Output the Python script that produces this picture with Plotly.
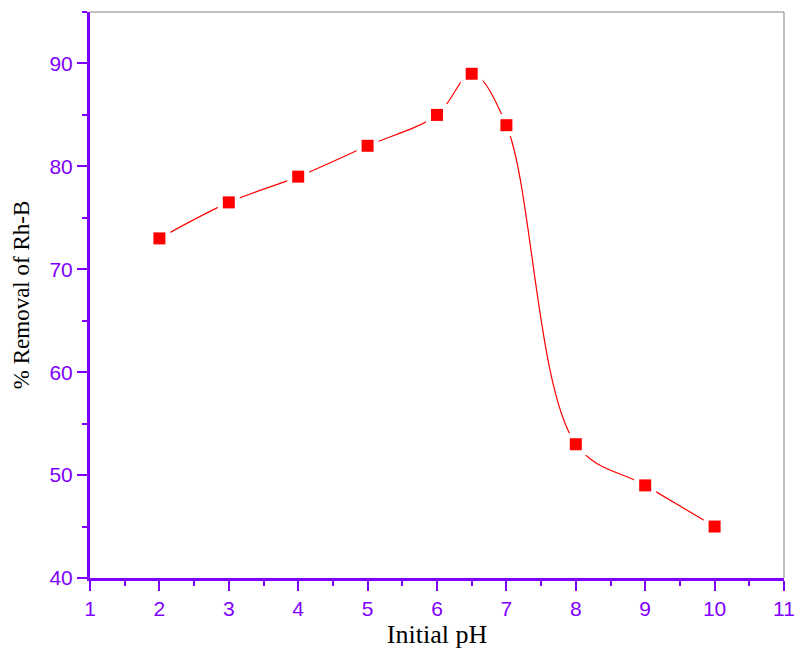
import plotly.graph_objects as go

ph = [2, 3, 4, 5, 6, 6.5, 7, 8, 9, 10]
removal = [73, 76.5, 79, 82, 85, 89, 84, 53, 49, 45]

purple = "#8000ff"

fig = go.Figure()
fig.add_trace(go.Scatter(x=ph, y=removal, mode="lines",
                         line=dict(color="red", width=1.2, shape="spline", smoothing=1.0),
                         showlegend=False, hoverinfo="skip"))
fig.add_trace(go.Scatter(x=ph, y=removal, mode="markers",
                         marker=dict(symbol="square", size=22, color="white"),
                         showlegend=False, hoverinfo="skip"))
fig.add_trace(go.Scatter(x=ph, y=removal, mode="markers",
                         marker=dict(symbol="square", size=12, color="red"),
                         showlegend=False))

axis_common = dict(showgrid=False, zeroline=False, ticks="outside", ticklen=10, tickwidth=2,
                   tickcolor=purple, showline=True, linecolor=purple, linewidth=3,
                   tickfont=dict(family="Liberation Sans, Arial", size=21, color=purple))

fig.update_xaxes(range=[1, 11], dtick=1, tick0=1,
                 minor=dict(dtick=0.5, ticklen=5, tickwidth=2, tickcolor=purple, ticks="outside"),
                 title=dict(text="Initial pH", font=dict(family="Liberation Serif, Times New Roman", size=26, color="black"), standoff=4),
                 **axis_common)
fig.update_yaxes(range=[40, 95], dtick=10, tick0=40,
                 minor=dict(dtick=5, ticklen=5, tickwidth=2, tickcolor=purple, ticks="outside"),
                 title=dict(text="% Removal of Rh-B", font=dict(family="Liberation Serif, Times New Roman", size=23, color="black"), standoff=14),
                 **axis_common)

fig.add_shape(type="line", xref="paper", yref="paper", x0=0, x1=1, y0=1, y1=1, line=dict(color="gray", width=1))
fig.add_shape(type="line", xref="paper", yref="paper", x0=1, x1=1, y0=0, y1=1, line=dict(color="gray", width=1))

fig.update_layout(width=807, height=656, plot_bgcolor="white", paper_bgcolor="white",
                  margin=dict(l=90, r=14, t=12, b=78))

fig.write_html("out.html")
